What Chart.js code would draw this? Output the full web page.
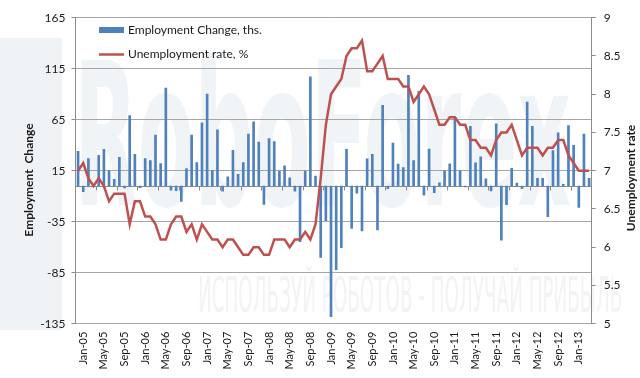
<!DOCTYPE html>
<html><head><meta charset="utf-8">
<script src="https://cdn.jsdelivr.net/npm/chart.js@4/dist/chart.umd.min.js"></script>
<style>html,body{margin:0;padding:0;background:#fff;overflow:hidden}#wrap{width:640px;height:378px;position:relative}</style>
</head><body><div id="wrap"><canvas id="c" width="640" height="378"></canvas></div>
<script>
const categories = [
'Dec-04',
'Jan-05','Feb-05','Mar-05','Apr-05','May-05','Jun-05','Jul-05','Aug-05','Sep-05','Oct-05','Nov-05','Dec-05',
'Jan-06','Feb-06','Mar-06','Apr-06','May-06','Jun-06','Jul-06','Aug-06','Sep-06','Oct-06','Nov-06','Dec-06',
'Jan-07','Feb-07','Mar-07','Apr-07','May-07','Jun-07','Jul-07','Aug-07','Sep-07','Oct-07','Nov-07','Dec-07',
'Jan-08','Feb-08','Mar-08','Apr-08','May-08','Jun-08','Jul-08','Aug-08','Sep-08','Oct-08','Nov-08','Dec-08',
'Jan-09','Feb-09','Mar-09','Apr-09','May-09','Jun-09','Jul-09','Aug-09','Sep-09','Oct-09','Nov-09','Dec-09',
'Jan-10','Feb-10','Mar-10','Apr-10','May-10','Jun-10','Jul-10','Aug-10','Sep-10','Oct-10','Nov-10','Dec-10',
'Jan-11','Feb-11','Mar-11','Apr-11','May-11','Jun-11','Jul-11','Aug-11','Sep-11','Oct-11','Nov-11','Dec-11',
'Jan-12','Feb-12','Mar-12','Apr-12','May-12','Jun-12','Jul-12','Aug-12','Sep-12','Oct-12','Nov-12','Dec-12',
'Jan-13','Feb-13','Mar-13'
];
const employmentChange = [
34,-5.5,27,1,30,36,15,6.5,28,-2,69,31,
-1.6,27,25,50,22,96,-4,-4.5,-15,17,50,23,
62,90,15,55,-5,9,35,11.5,23,51,63,43,
-18,46.5,43.5,14.6,19.8,8,-5,-54.5,14.6,107,9.7,-70,
-34,-128,-82,-60.5,36,-41.5,-7,-44,26.6,31,-43,79,
-2.5,42,21.5,18,108.5,24.8,92.7,-9,36.3,-6.5,3.2,14.8,
21.8,67,14.8,-1,58.4,22.7,28.6,7,-4.8,61,-53.2,-18.3,
17.3,2.8,-2.5,82.3,58.4,7.6,7.6,-30,34.8,52.2,1.7,59.3,
39.8,-21,51,7.6
];
const unemploymentRate = [
7.0,7.1,6.9,6.8,6.9,6.8,6.6,6.7,6.7,6.7,6.3,6.6,
6.6,6.4,6.4,6.3,6.1,6.1,6.3,6.4,6.4,6.2,6.3,6.1,
6.3,6.2,6.1,6.1,6.0,6.1,6.1,6.0,5.9,5.9,6.0,6.0,
5.9,5.9,6.1,6.1,6.1,6.0,6.1,6.1,6.2,6.1,6.3,6.9,
7.6,8.0,8.1,8.2,8.5,8.6,8.6,8.7,8.3,8.3,8.4,8.5,
8.2,8.2,8.2,8.1,8.1,7.9,8.0,8.1,8.0,7.8,7.6,7.6,
7.7,7.7,7.6,7.6,7.4,7.4,7.3,7.3,7.2,7.4,7.5,7.5,
7.6,7.4,7.2,7.3,7.3,7.3,7.2,7.3,7.3,7.4,7.4,7.2,
7.1,7.0,7.0,7.0
];
const leftTicks = [-135,-85,-35,15,65,115,165];
const rightTicks = [5,5.5,6,6.5,7,7.5,8,8.5,9];
const barLabel = 'Employment Change, ths.';
const lineLabel = 'Unemployment rate, %';
const leftTitle = 'Employment  Change';
const rightTitle = 'Unemployment rate';

const FONT = 'Lato, "Open Sans", sans-serif';
const BLUE = '#4f81bd', RED = '#c0504d', GRID = '#a6a6a6', AXIS = '#8c8c8c';

const watermark = {
  id: 'watermark',
  beforeDraw(chart) {
    const ctx = chart.ctx;
    ctx.save();
    ctx.fillStyle = 'rgba(205,216,226,0.3)';
    ctx.fillRect(0, 38, 62, 292);
    ctx.font = 'bold 100px "Liberation Sans Narrow", "DejaVu Sans Condensed", sans-serif';
    ctx.textBaseline = 'alphabetic';
    ctx.translate(74, 205);
    ctx.scale(0.92, 2.0);
    ctx.fillStyle = 'rgba(200,214,226,0.28)';
    ctx.fillText('RoboForex', 0, 0);
    ctx.restore();
    ctx.save();
    ctx.font = '34px "Liberation Sans Narrow", "DejaVu Sans Condensed", sans-serif';
    ctx.translate(198, 312);
    ctx.scale(0.6, 1.45);
    ctx.fillStyle = 'rgba(220,220,220,0.35)';
    ctx.fillText('ИСПОЛЬЗУЙ РОБОТОВ - ПОЛУЧАЙ ПРИБЫЛЬ', 0, 0);
    ctx.restore();
  }
};

const zeroAxis = {
  id: 'zeroAxis',
  beforeDatasetsDraw(chart) {
    const ctx = chart.ctx, y = chart.scales.y;
    const y0 = Math.round(y.getPixelForValue(0)) + 0.5;
    const a = chart.chartArea;
    const w = (a.right - a.left) / categories.length;
    ctx.save();
    ctx.strokeStyle = AXIS; ctx.lineWidth = 1;
    ctx.beginPath();
    ctx.moveTo(a.left, y0); ctx.lineTo(a.right, y0);
    for (let k = 4; k < categories.length; k += 4) {
      const px = Math.round(a.left + k * w) + 0.5;
      ctx.moveTo(px, y0); ctx.lineTo(px, y0 + 4);
    }
    ctx.stroke();
    ctx.restore();
  }
};

const overlay = {
  id: 'overlay',
  afterDraw(chart) {
    const ctx = chart.ctx;
    ctx.save();
    ctx.fillStyle = BLUE;
    ctx.fillRect(99, 27, 25, 6);
    ctx.strokeStyle = RED; ctx.lineWidth = 2.5;
    ctx.beginPath(); ctx.moveTo(99, 54.5); ctx.lineTo(124, 54.5); ctx.stroke();
    ctx.fillStyle = '#1a1a1a';
    ctx.font = '12px ' + FONT;
    ctx.textBaseline = 'middle'; ctx.textAlign = 'left';
    ctx.fillText(barLabel, 128, 30.5);
    ctx.fillText(lineLabel, 128, 54.5);
    ctx.font = 'bold 12px ' + FONT;
    ctx.textAlign = 'center';
    ctx.save(); ctx.translate(29, 180); ctx.rotate(-Math.PI / 2); ctx.fillText(leftTitle, 0, 0); ctx.restore();
    ctx.save(); ctx.translate(631, 178); ctx.rotate(-Math.PI / 2); ctx.fillText(rightTitle, 0, 0); ctx.restore();
    ctx.restore();
  }
};

new Chart(document.getElementById('c'), {
  data: {
    labels: categories,
    datasets: [
      { type: 'line', label: lineLabel, data: unemploymentRate, yAxisID: 'y1', borderColor: RED, backgroundColor: RED,
        borderWidth: 2.5, pointRadius: 0, tension: 0, order: 0 },
      { type: 'bar', label: barLabel, data: employmentChange, yAxisID: 'y', backgroundColor: BLUE,
        barThickness: 2, order: 1 }
    ]
  },
  options: {
    responsive: false, animation: false, devicePixelRatio: 1,
    layout: { padding: { top: 17.7, left: 0, right: 0, bottom: 0 } },
    plugins: { legend: { display: false }, tooltip: { enabled: false } },
    scales: {
      x: {
        grid: { display: false, drawTicks: false },
        border: { display: false },
        ticks: {
          autoSkip: false, minRotation: 90, maxRotation: 90, padding: 8,
          color: '#1a1a1a', font: { size: 11, family: FONT },
          callback: (v, i) => (i % 4 === 1 ? categories[i] : '')
        },
        afterFit: s => { s.height = 378 - 323.7; }
      },
      y: {
        position: 'left', min: -135, max: 165,
        afterBuildTicks: s => { s.ticks = leftTicks.map(v => ({ value: v })); },
        grid: { color: GRID, tickLength: 4, tickColor: AXIS },
        border: { display: true, color: AXIS },
        ticks: { color: '#1a1a1a', font: { size: 12, family: FONT }, padding: 6, callback: v => String(v) },
        afterFit: s => { s.width = 75.5; }
      },
      y1: {
        position: 'right', min: 5, max: 9,
        afterBuildTicks: s => { s.ticks = rightTicks.map(v => ({ value: v })); },
        grid: { drawOnChartArea: false, tickLength: 4, color: AXIS },
        border: { display: true, color: AXIS },
        ticks: { color: '#1a1a1a', font: { size: 12, family: FONT }, padding: 8, callback: v => String(v) },
        afterFit: s => { s.width = 640 - 591.7; }
      }
    }
  },
  plugins: [watermark, zeroAxis, overlay]
});
</script>
</body></html>
